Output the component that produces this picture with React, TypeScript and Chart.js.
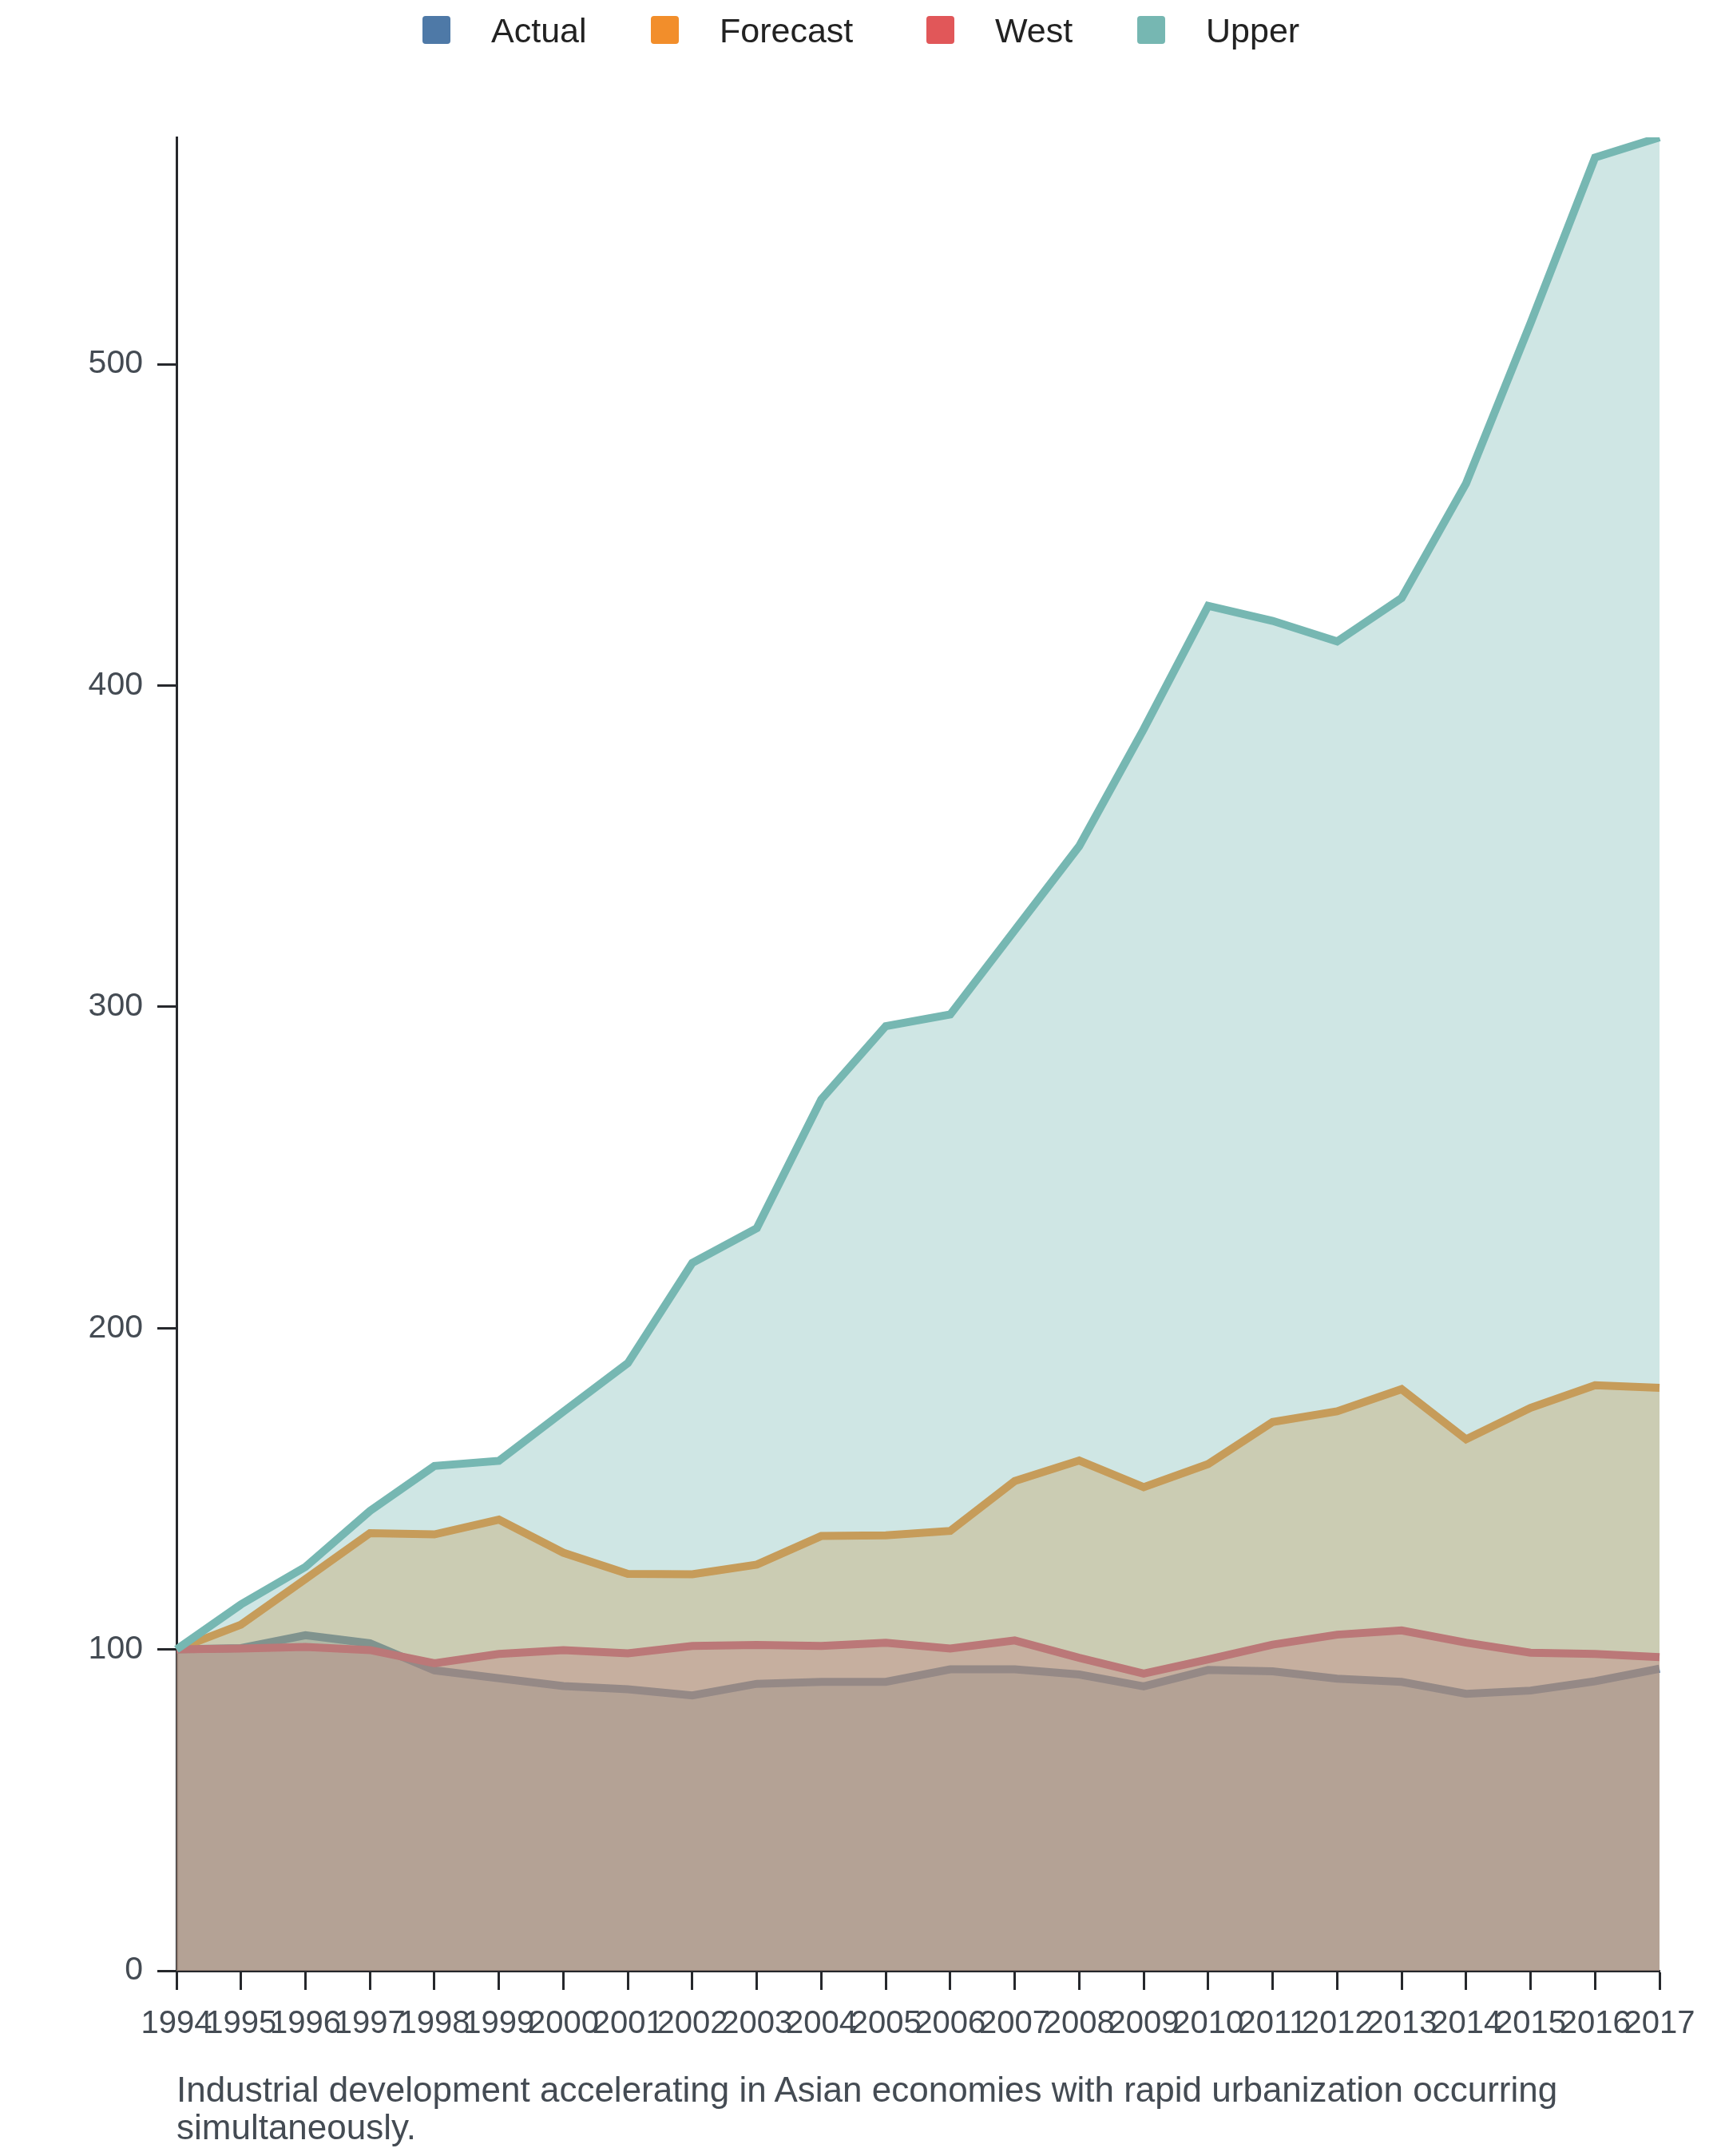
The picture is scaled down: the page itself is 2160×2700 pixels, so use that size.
import React, { useEffect, useRef } from "react";
import { Chart, registerables } from "chart.js";

Chart.register(...registerables);

const FONT = "'Liberation Sans', Arial, Helvetica, sans-serif";

const years = [
  "1994", "1995", "1996", "1997", "1998", "1999", "2000", "2001",
  "2002", "2003", "2004", "2005", "2006", "2007", "2008", "2009",
  "2010", "2011", "2012", "2013", "2014", "2015", "2016", "2017",
];

const actual = [
  100, 100.4, 104.4, 101.9, 93.5, 91.0, 88.6, 87.6, 85.7, 89.3, 89.9, 89.9,
  93.8, 93.8, 92.2, 88.5, 93.6, 93.2, 90.9, 89.9, 86.2, 87.2, 90.1, 94.0,
];
const forecast = [
  100, 107.7, 121.9, 136.2, 135.8, 140.4, 130.1, 123.5, 123.4, 126.4, 135.3, 135.5,
  136.9, 152.4, 158.8, 150.5, 157.7, 170.8, 174.1, 181.0, 165.4, 175.2, 182.2, 181.4,
];
const west = [
  100, 100.3, 100.8, 99.8, 95.7, 98.6, 99.8, 98.8, 101.1, 101.4, 101.1, 102.1,
  100.3, 102.8, 97.4, 92.5, 96.9, 101.5, 104.6, 105.9, 102.1, 99.0, 98.6, 97.6,
];
const upper = [
  100, 114.0, 125.7, 143.1, 157.1, 158.7, 174.0, 189.1, 220.3, 231.1, 271.2, 294.0,
  297.6, 323.8, 350.0, 386.4, 424.8, 420.1, 413.7, 427.2, 462.9, 512.8, 564.3, 570.6,
];

const seriesNames = ["Actual", "Forecast", "West", "Upper"];
const seriesColors = ["#4e79a7", "#f28e2b", "#e15759", "#76b7b2"];
const seriesData = [actual, forecast, west, upper];

const yTicks = [0, 100, 200, 300, 400, 500];

const caption = [
  "Industrial development accelerating in Asian economies with rapid urbanization occurring",
  "simultaneously.",
];

// left edge of each legend entry, px
const legendLeft = [529, 815, 1160, 1424];

function withAlpha(hex: string, a: number) {
  const n = parseInt(hex.slice(1), 16);
  return `rgba(${(n >> 16) & 255}, ${(n >> 8) & 255}, ${n & 255}, ${a})`;
}

const AXIS = "#26282c";
const TEXT = "#444b53";

function AreaChart() {
  const chartRef = useRef<HTMLCanvasElement>(null);

  useEffect(() => {
    const ctx = chartRef.current?.getContext("2d");
    if (!ctx) {
      return;
    }

    const chart = new Chart(ctx, {
      type: "line",
      data: {
        labels: years,
        datasets: seriesNames.map((name, i) => ({
          label: name,
          data: seriesData[i],
          borderColor: seriesColors[i],
          backgroundColor: withAlpha(seriesColors[i], 0.35),
          fill: "origin",
          borderWidth: 10,
          borderJoinStyle: "miter" as const,
          pointRadius: 0,
          pointHoverRadius: 0,
          tension: 0,
          // later series are painted over earlier ones
          order: seriesNames.length - 1 - i,
        })),
      },
      options: {
        responsive: false,
        animation: false,
        events: [],
        layout: {
          padding: { top: 172, right: 82, left: 0, bottom: 0 },
        },
        plugins: {
          legend: { display: false },
          tooltip: { enabled: false },
        },
        scales: {
          x: {
            offset: false,
            grid: {
              drawOnChartArea: false,
              drawTicks: true,
              tickLength: 24,
              tickWidth: 3,
              color: AXIS,
            },
            border: { display: true, color: AXIS, width: 3 },
            ticks: {
              autoSkip: false,
              maxRotation: 0,
              minRotation: 0,
              padding: 19,
              color: TEXT,
              font: { family: FONT, size: 40 },
            },
            afterFit: (scale: any) => {
              scale.height = 232;
            },
          },
          y: {
            min: 0,
            max: Math.max(...upper),
            grid: {
              drawOnChartArea: false,
              drawTicks: true,
              tickLength: 24,
              tickWidth: 3,
              color: AXIS,
            },
            border: { display: true, color: AXIS, width: 3 },
            ticks: {
              stepSize: 100,
              padding: 18,
              color: TEXT,
              font: { family: FONT, size: 41 },
            },
            afterBuildTicks: (scale: any) => {
              scale.ticks = yTicks.map((v) => ({ value: v }));
            },
            afterFit: (scale: any) => {
              scale.width = 221;
            },
          },
        },
      },
    });
    return () => {
      chart.destroy();
    };
  }, []);

  return (
    <div
      style={{
        position: "absolute",
        left: 0,
        top: 0,
        width: 2160,
        height: 2700,
        background: "#fff",
        fontFamily: FONT,
      }}
    >
      <canvas
        ref={chartRef}
        width={2160}
        height={2700}
        style={{ position: "absolute", left: 0, top: 0 }}
      />
      {/* legend */}
      {seriesNames.map((name, i) => (
        <div
          key={name}
          style={{
            position: "absolute",
            left: legendLeft[i],
            top: 0,
            height: 75,
            display: "flex",
            alignItems: "center",
            whiteSpace: "nowrap",
          }}
        >
          <span
            style={{
              width: 35,
              height: 35,
              borderRadius: 4,
              background: seriesColors[i],
              marginRight: 51,
            }}
          />
          <span style={{ fontSize: 43, color: "#222", lineHeight: "50px" }}>
            {name}
          </span>
        </div>
      ))}
      {/* caption */}
      <div
        style={{
          position: "absolute",
          left: 221,
          top: 2593,
          fontSize: 44,
          lineHeight: "47px",
          color: TEXT,
          whiteSpace: "nowrap",
        }}
      >
        {caption[0]}
        <br />
        {caption[1]}
      </div>
    </div>
  );
}

export default function App() {
  return <AreaChart />;
}
